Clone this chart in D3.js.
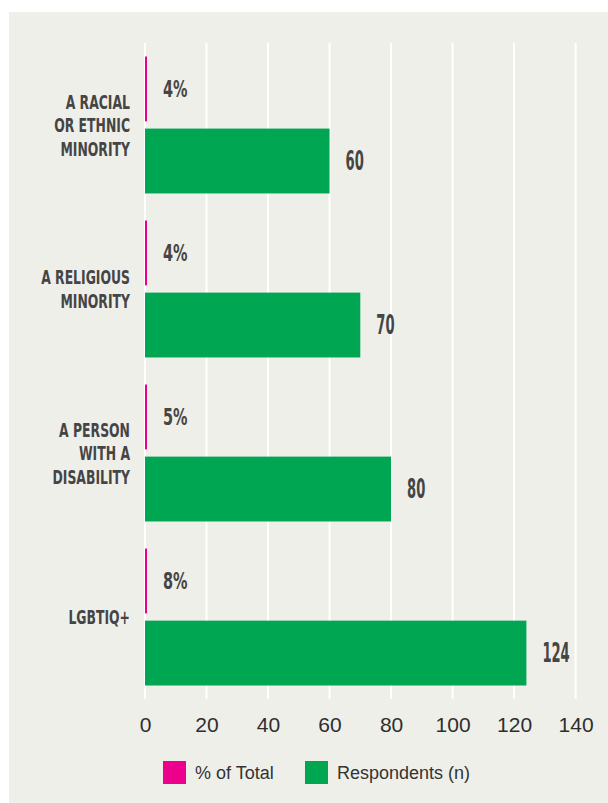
<!DOCTYPE html>
<html><head><meta charset="utf-8">
<script src="https://cdn.jsdelivr.net/npm/d3@7"></script>
<style>body{margin:0;background:#fff} svg{display:block}</style>
</head><body>
<svg id="chart" width="608" height="803"></svg>
<script>
// ---- data ----
const categories = ["A RACIAL OR ETHNIC MINORITY", "A RELIGIOUS MINORITY", "A PERSON WITH A DISABILITY", "LGBTIQ+"];
const categoryLines = [["A RACIAL", "OR ETHNIC", "MINORITY"], ["A RELIGIOUS", "MINORITY"], ["A PERSON", "WITH A", "DISABILITY"], ["LGBTIQ+"]];
const pctOfTotal = [4, 4, 5, 8];
const respondents = [60, 70, 80, 124];
const xTicks = [0, 20, 40, 60, 80, 100, 120, 140];
const seriesNames = ["% of Total", "Respondents (n)"];
const seriesKeys = ["pct", "n"];
const seriesColors = ["#ec008c", "#00a651"];

// ---- layout ----
const W = 608, H = 803;
const svg = d3.select("#chart");
const textCol = "#454545";
const condensed = "'Liberation Sans Narrow', 'DejaVu Sans Condensed', sans-serif";
const plain = "'Liberation Sans', Arial, Helvetica, sans-serif";

svg.append("rect").attr("x", 9).attr("y", 12).attr("width", W - 9).attr("height", H - 12).attr("fill", "#efefea");

const x = d3.scaleLinear().domain([0, 140]).range([145, 575.6]);
const y = d3.scaleBand().domain(categories).range([43, 699]).paddingInner(0.165).paddingOuter(0.0823);
const ySub = d3.scaleBand().domain(seriesKeys).range([0, y.bandwidth()]).paddingInner(0.1).paddingOuter(0);
const color = d3.scaleOrdinal().domain(seriesKeys).range(seriesColors);

// grid
svg.append("g").selectAll("line").data(xTicks).join("line")
  .attr("x1", d => x(d)).attr("x2", d => x(d))
  .attr("y1", y.range()[0]).attr("y2", y.range()[1])
  .attr("stroke", "#ffffff").attr("stroke-width", 2);

// axis
const axis = svg.append("g").attr("transform", `translate(0,${y.range()[1]})`)
  .call(d3.axisBottom(x).tickValues(xTicks).tickSize(0));
axis.select(".domain").remove();
axis.selectAll("text").attr("font-family", plain).attr("font-size", 21).attr("fill", "#2e2e2e").attr("dy", "0.35em").attr("y", 26);

const rows = categories.map((c, i) => ({ cat: c, lines: categoryLines[i], pct: pctOfTotal[i], n: respondents[i] }));

const groups = svg.append("g").selectAll("g").data(rows).join("g")
  .attr("transform", d => `translate(0,${y(d.cat)})`);

const pctWidth = d => Math.max(2, x(d.pct / 100) - x(0));

// pct bars (share of total on the same axis; minimum visible width)
groups.append("rect")
  .attr("x", x(0))
  .attr("y", ySub("pct"))
  .attr("width", pctWidth)
  .attr("height", ySub.bandwidth())
  .attr("fill", color("pct"));

groups.append("rect")
  .attr("x", x(0))
  .attr("y", ySub("n"))
  .attr("width", d => x(d.n) - x(0))
  .attr("height", ySub.bandwidth())
  .attr("fill", color("n"));

// pct labels
const pctFs = 23;
groups.append("text")
  .attr("transform", d => `translate(${x(0) + pctWidth(d) + 16},${ySub("pct") + ySub.bandwidth() / 2 + pctFs * 0.36}) scale(0.7,1)`)
  .attr("font-family", condensed).attr("font-weight", "bold").attr("font-size", pctFs).attr("fill", textCol)
  .text(d => d.pct + "%");

// respondents labels
const nFs = 26;
groups.append("text")
  .attr("transform", d => `translate(${x(d.n) + 16},${ySub("n") + ySub.bandwidth() / 2 + nFs * 0.36}) scale(0.56,1)`)
  .attr("font-family", condensed).attr("font-weight", "bold").attr("font-size", nFs).attr("fill", textCol)
  .text(d => d.n);

// category labels
const catFs = 20, lineH = 23.5;
groups.each(function (d) {
  const g = d3.select(this);
  const cy = y.bandwidth() / 2;
  const top = cy - (d.lines.length - 1) * lineH / 2;
  d.lines.forEach((ln, j) => {
    g.append("text")
      .attr("transform", `translate(${x(0) - 15},${top + j * lineH + catFs * 0.36}) scale(0.69,1)`)
      .attr("text-anchor", "end")
      .attr("font-family", condensed).attr("font-weight", "bold").attr("font-size", catFs).attr("fill", textCol)
      .text(ln);
  });
});

// legend
const legend = svg.append("g").attr("transform", "translate(0,772.5)");
const legX = [163, 305];
seriesKeys.forEach((k, i) => {
  legend.append("rect").attr("x", legX[i]).attr("y", -11.5).attr("width", 23).attr("height", 23).attr("fill", color(k));
  legend.append("text").attr("x", legX[i] + 32).attr("y", 0).attr("dy", "0.35em")
    .attr("font-family", plain).attr("font-size", 18).attr("fill", "#333").text(seriesNames[i]);
});
</script>
</body></html>
